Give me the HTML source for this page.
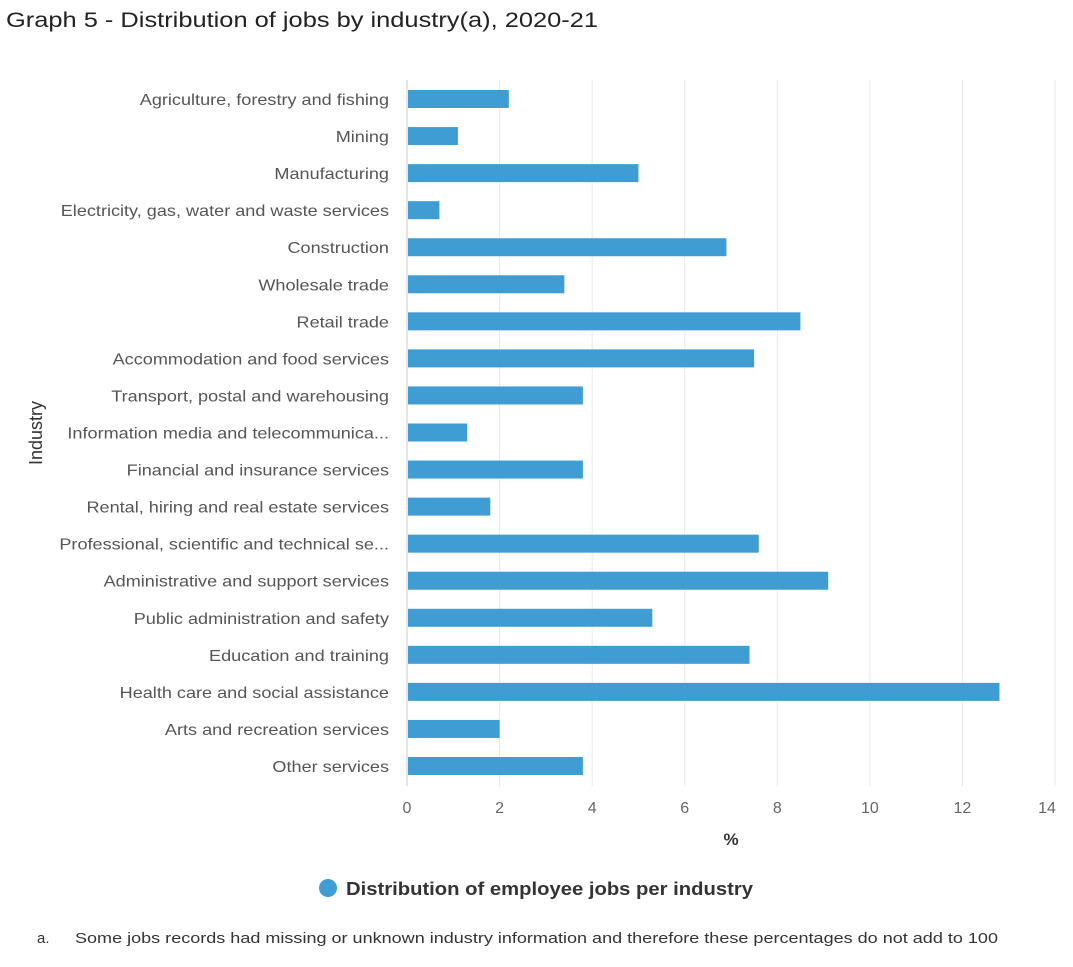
<!DOCTYPE html>
<html><head><meta charset="utf-8"><style>
body{margin:0;background:#fff;font-family:"Liberation Sans",sans-serif;}
</style></head><body>
<svg width="1073" height="962" xmlns="http://www.w3.org/2000/svg" id="chart" style="font-family:'Liberation Sans',sans-serif">
<text x="6" y="27" font-size="21" fill="#222" textLength="592" lengthAdjust="spacingAndGlyphs">Graph 5 - Distribution of jobs by industry(a), 2020-21</text>
<g id="grid"></g><g id="bars"></g><g id="ylabels"></g><g id="xticks"></g>
<text x="731" y="845" font-size="17" font-weight="bold" fill="#333" text-anchor="middle">%</text>
<text transform="translate(42,433) rotate(-90)" font-size="18" fill="#333" text-anchor="middle">Industry</text>
<g>
<circle cx="328" cy="888" r="9" fill="#3f9dd3"></circle>
<text x="346" y="895" font-size="18" font-weight="bold" fill="#333" textLength="407" lengthAdjust="spacingAndGlyphs">Distribution of employee jobs per industry</text></g>
<text x="37" y="943" font-size="15" fill="#333">a.</text>
<text x="75" y="943" font-size="15" fill="#333" textLength="923" lengthAdjust="spacingAndGlyphs">Some jobs records had missing or unknown industry information and therefore these percentages do not add to 100</text>
</svg>
<script>
const categories=["Agriculture, forestry and fishing","Mining","Manufacturing","Electricity, gas, water and waste services","Construction","Wholesale trade","Retail trade","Accommodation and food services","Transport, postal and warehousing","Information media and telecommunica...","Financial and insurance services","Rental, hiring and real estate services","Professional, scientific and technical se...","Administrative and support services","Public administration and safety","Education and training","Health care and social assistance","Arts and recreation services","Other services"];
const values=[2.2,1.1,5.0,0.7,6.9,3.4,8.5,7.5,3.8,1.3,3.8,1.8,7.6,9.1,5.3,7.4,12.8,2.0,3.8];
const ticks=[0,2,4,6,8,10,12,14];
const NS="http://www.w3.org/2000/svg";
const x=v=>407+v*(1055-407)/14;
const y=i=>100+i*(767-100)/18;
function mk(t,a,p){const e=document.createElementNS(NS,t);for(const k in a)e.setAttribute(k,a[k]);document.getElementById(p).appendChild(e);return e;}
ticks.forEach(t=>{
 const g=mk("line",{x1:x(t),x2:x(t),y1:80,y2:786,stroke:t===0?"#ccc":"#e6e6e6","stroke-width":1},"grid");
 
 
 const l=mk("text",{x:t===14?x(t)-8:x(t),y:813,"font-size":16,fill:"#666","text-anchor":"middle"},"xticks");
 l.textContent=t;
 
 
});
categories.forEach((c,i)=>{
 const b=mk("rect",{x:x(0)+1,y:y(i)-10,width:x(values[i])-x(0)-1,height:18,fill:"#3f9dd3"},"bars");
 
 
 const l=mk("text",{x:389,y:y(i)+5,"font-size":16,fill:"#555","text-anchor":"end"},"ylabels");
 l.textContent=c;
 
 
 const w=l.getComputedTextLength();
 if(w>0){l.setAttribute('textLength',w*1.13);l.setAttribute('lengthAdjust','spacingAndGlyphs');}
});
</script>
</body></html>
